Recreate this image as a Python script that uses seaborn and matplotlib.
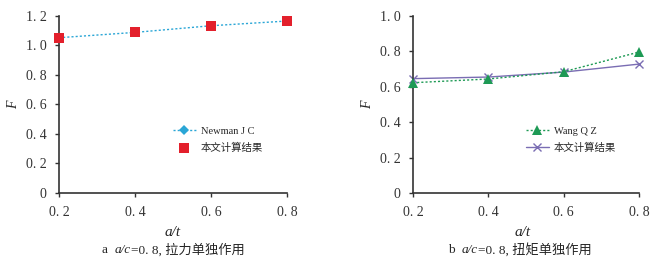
import pandas as pd
import matplotlib
matplotlib.use('Agg')
import matplotlib.pyplot as plt
import seaborn as sns

# data
a_t = [0.2, 0.4, 0.6, 0.8]
newman = [1.051, 1.087, 1.132, 1.164]
ours_tension = [1.051, 1.087, 1.132, 1.164]
wang = [0.622, 0.643, 0.684, 0.795]
ours_torque = [0.645, 0.654, 0.682, 0.727]

x_ticks = [0.2, 0.4, 0.6, 0.8]
x_labels = ['0. 2', '0. 4', '0. 6', '0. 8']
y_ticks_a = [0, 0.2, 0.4, 0.6, 0.8, 1.0, 1.2]
y_labels_a = ['0', '0. 2', '0. 4', '0. 6', '0. 8', '1. 0', '1. 2']
y_ticks_b = [0, 0.2, 0.4, 0.6, 0.8, 1.0]
y_labels_b = ['0', '0. 2', '0. 4', '0. 6', '0. 8', '1. 0']

sns.set_theme(style='ticks')
FAM = ['Liberation Serif', 'Noto Sans CJK SC']
plt.rcParams['font.family'] = FAM
plt.rcParams['axes.unicode_minus'] = False

fig = plt.figure(figsize=(6.6, 2.69), dpi=100)
ax1 = fig.add_axes([59 / 660, 1 - 193 / 269, 228 / 660, 177.3 / 269])
ax2 = fig.add_axes([413 / 660, 1 - 193 / 269, 226 / 660, 177.3 / 269])

df_a = pd.DataFrame({'a_t': a_t, 'newman': newman, 'ours': ours_tension})
df_b = pd.DataFrame({'a_t': a_t, 'wang': wang, 'ours': ours_torque})

# left panel: tension
sns.lineplot(data=df_a, x='a_t', y='newman', ax=ax1, color='#2AA6D6', linestyle=(0, (1.5, 1.5)),
             lw=1.0, marker='D', markersize=5, markeredgewidth=0, label='Newman J C', clip_on=False)
sns.scatterplot(data=df_a, x='a_t', y='ours', ax=ax1, color='#E3202C', marker='s', s=42,
                linewidth=0, label='本文计算结果', zorder=5, clip_on=False)

# right panel: torque
sns.lineplot(data=df_b, x='a_t', y='wang', ax=ax2, color='#1E9A55', linestyle=(0, (1.5, 1.5)),
             lw=1.0, marker='^', markersize=7, markeredgewidth=0, label='Wang Q Z', zorder=5,
             clip_on=False)
sns.lineplot(data=df_b, x='a_t', y='ours', ax=ax2, color='#7A6DB3', lw=1.0, marker='x',
             markersize=6, markeredgewidth=1.0, markeredgecolor='#7A6DB3', label='本文计算结果',
             clip_on=False)

for ax, yt, yl, ymax in [(ax1, y_ticks_a, y_labels_a, 1.2), (ax2, y_ticks_b, y_labels_b, 1.0)]:
    ax.set_xlim(0.2, 0.8)
    ax.set_ylim(0, ymax)
    ax.set_xticks(x_ticks)
    ax.set_xticklabels(x_labels, fontsize=10, family=FAM)
    ax.set_yticks(yt)
    ax.set_yticklabels(yl, fontsize=10, family=FAM)
    ax.set_xlabel('')
    ax.set_ylabel('')
    for s in ['top', 'right']:
        ax.spines[s].set_visible(False)
    for s in ['left', 'bottom']:
        ax.spines[s].set_color('#333333')
        ax.spines[s].set_linewidth(1.2)
    ax.tick_params(axis='both', direction='out', length=3, width=1, color='#333333',
                   labelcolor='#333333', pad=6)

ax1.legend(loc='upper left', bbox_to_anchor=(0.48, 0.40), frameon=False, fontsize=7.5,
           handlelength=2.2, handletextpad=0.5, labelspacing=0.7, borderaxespad=0)
ax2.legend(loc='upper left', bbox_to_anchor=(0.48, 0.40), frameon=False, fontsize=7.5,
           handlelength=2.2, handletextpad=0.5, labelspacing=0.7, borderaxespad=0)

# axis titles
for cx in [14 / 660, 368 / 660]:
    fig.text(cx, 1 - 105 / 269, 'F', family='Liberation Serif', style='italic', fontsize=10,
             rotation=90, ha='center', va='center')
for cx in [173 / 660, 523 / 660]:
    fig.text(cx, 1 - 232 / 269, 'a/t', family='Liberation Serif', style='italic', fontsize=11,
             ha='center', va='center')


def put_segments(cx, cy, segs):
    renderer = fig.canvas.get_renderer()
    texts = []
    for s, st in segs:
        t = fig.text(0, cy, s, family=FAM, style=st, fontsize=9.5, ha='left', va='center')
        texts.append(t)
    widths = [t.get_window_extent(renderer).width / fig.bbox.width for t in texts]
    x = cx - sum(widths) / 2
    for t, w in zip(texts, widths):
        t.set_x(x)
        x += w


put_segments(173 / 660, 1 - 250 / 269, [('a  ', 'normal'), ('a/c', 'italic'), ('=0. 8, 拉力单独作用', 'normal')])
put_segments(520 / 660, 1 - 250 / 269, [('b  ', 'normal'), ('a/c', 'italic'), ('=0. 8, 扭矩单独作用', 'normal')])

fig.savefig('out.png', dpi=100)
